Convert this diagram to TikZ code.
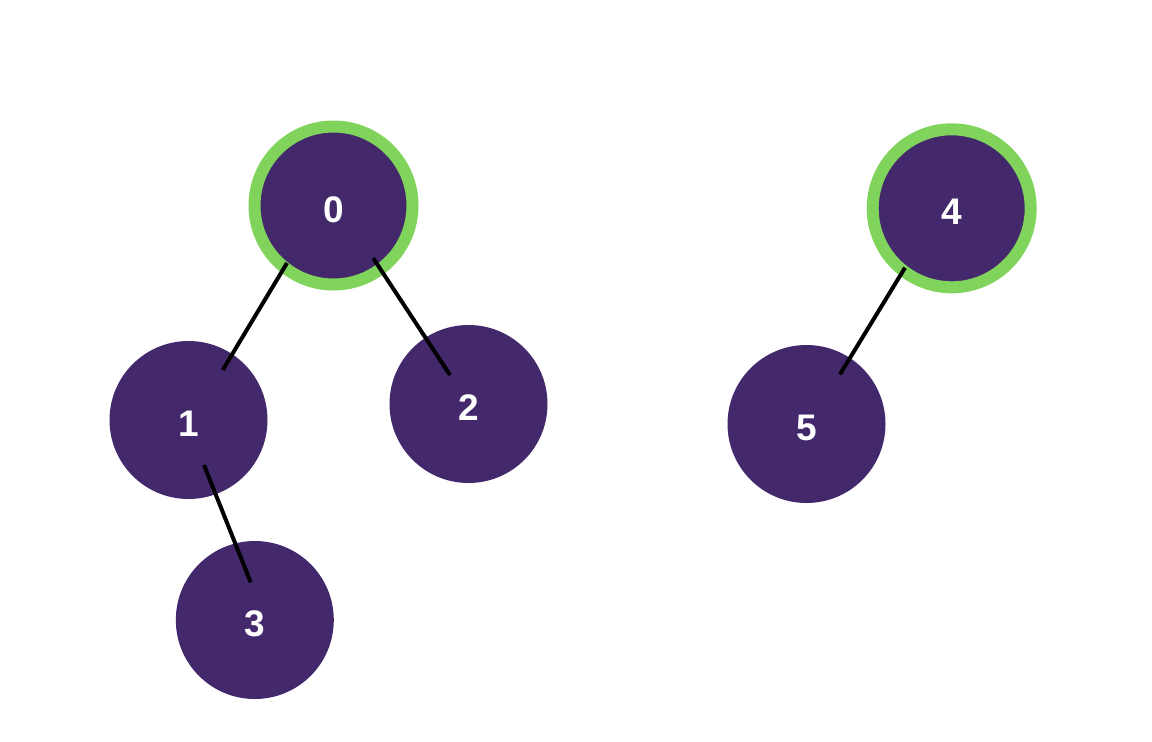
\documentclass[tikz,border=0pt]{standalone}
\usepackage{fontspec}
\setmainfont{Liberation Sans}
\usetikzlibrary{calc}
\definecolor{treepurple}{HTML}{43296C}
\definecolor{rootgreen}{HTML}{80D35B}
\begin{document}
\begin{tikzpicture}[x=1pt,y=-1pt,edge/.style={draw=black,line width=4pt},
    root/.style={draw=rootgreen,line width=12pt}]
    \tikzstyle{element}=[circle,fill=treepurple,text=white,minimum size=158pt,inner sep=0pt,
        text height=33pt,text depth=0pt,font=\fontsize{37}{40}\selectfont\bfseries]
    \useasboundingbox (0,0) rectangle (1152,742);

    \node[element,root] (n0) at (333.5,205.5) {0};
    \node[element] (n1) at (188.5,420) {1};
    \node[element] (n2) at (468.5,404) {2};
    \node[element] (n3) at (254.8,620) {3};
    \node[element,root] (n4) at (951.7,208.3) {4};
    \node[element] (n5) at (806.5,424) {5};

    \draw[edge] ($(n0)+(-46.5,57.5)$) -- ($(n1)+(34.2,-50)$);
    \draw[edge] ($(n0)+(39.8,52.8)$) -- ($(n2)+(-18.5,-29)$);
    \draw[edge] ($(n1)+(15.5,45)$) -- ($(n3)+(-4.1,-37.7)$);
    \draw[edge] ($(n4)+(-46.7,59.4)$) -- ($(n5)+(33.5,-49.7)$);

  \end{tikzpicture}
\end{document}
